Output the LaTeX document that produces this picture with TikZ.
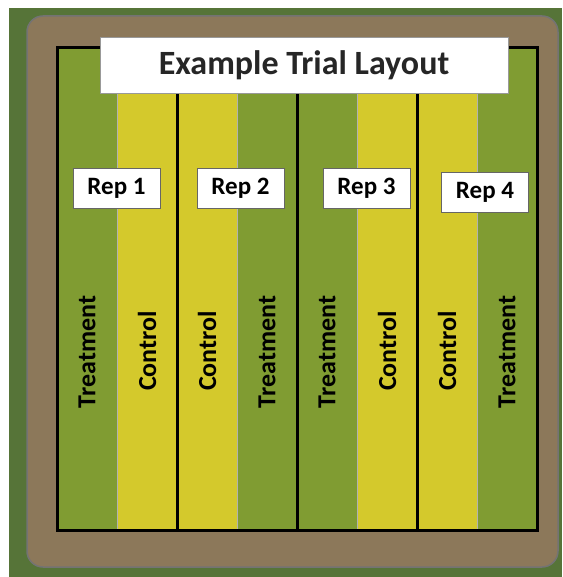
\documentclass[tikz,border=0pt]{standalone}
\usepackage{fontspec}
\setmainfont{Carlito}
\usepackage{xcolor}
\usetikzlibrary{positioning}

\definecolor{cropgreen}{RGB}{86,116,56}
\definecolor{soilbrown}{RGB}{140,120,90}
\definecolor{treatgreen}{RGB}{128,156,50}
\definecolor{ctrlyellow}{RGB}{212,201,44}

\tikzset{
  repbox/.style={draw=black!60, fill=white, minimum width=87pt, minimum height=40pt,
    inner sep=0pt, font=\bfseries\fontsize{25}{25}\selectfont},
  striplabel/.style={rotate=90, inner sep=0pt, font=\bfseries\fontsize{26}{26}\selectfont},
}

\begin{document}
\begin{tikzpicture}[x=1pt,y=-1pt]
\useasboundingbox (0,0) rectangle (562,577);

% Surrounding crop
\fill[cropgreen] (9,8) rectangle (562,577);

% Field margin (soil)
\draw[line width=1.5pt, draw=black!55, fill=soilbrown, rounded corners=16pt] (27,16) rectangle (558,567);

% Plot strips
\foreach \x/\c in {57/treatgreen, 117/ctrlyellow, 177/ctrlyellow, 237/treatgreen,
                   297/treatgreen, 357/ctrlyellow, 417/ctrlyellow, 477/treatgreen}
  \fill[\c] (\x,48) rectangle (\x+60,530);

% Strip edges inside a rep
\foreach \x in {117, 237, 357, 477}
  \draw[black!30, line width=0.6pt] (\x,48) -- (\x,530);

% Rep dividers and outline
\foreach \x in {177, 297, 417}
  \draw[line width=3pt] (\x,48) -- (\x,530);
\draw[line width=3pt] (57,48) rectangle (537,530);

% Title
\node[draw=black!40, fill=white, minimum width=408pt, minimum height=56pt, inner sep=0pt,
  font=\bfseries\fontsize{34}{34}\selectfont, text=black!85] (title) at (304,65) {Example Trial Layout};

% Rep labels
\node[repbox] (rep1) at (116.5,188) {Rep 1};
\node[repbox] (rep2) at (240.5,188) {Rep 2};
\node[repbox] (rep3) at (366.5,188) {Rep 3};
\node[repbox] (rep4) at (485,192) {Rep 4};

% Strip labels
\node[striplabel] (trt1) at (87,352) {Treatment};
\node[striplabel] (ctl1) at (147,351) {Control};
\node[striplabel] (ctl2) at (207,351) {Control};
\node[striplabel] (trt2) at (267,352) {Treatment};
\node[striplabel] (trt3) at (327,352) {Treatment};
\node[striplabel] (ctl3) at (387,351) {Control};
\node[striplabel] (ctl4) at (447,351) {Control};
\node[striplabel] (trt4) at (507,352) {Treatment};

\end{tikzpicture}
\end{document}
